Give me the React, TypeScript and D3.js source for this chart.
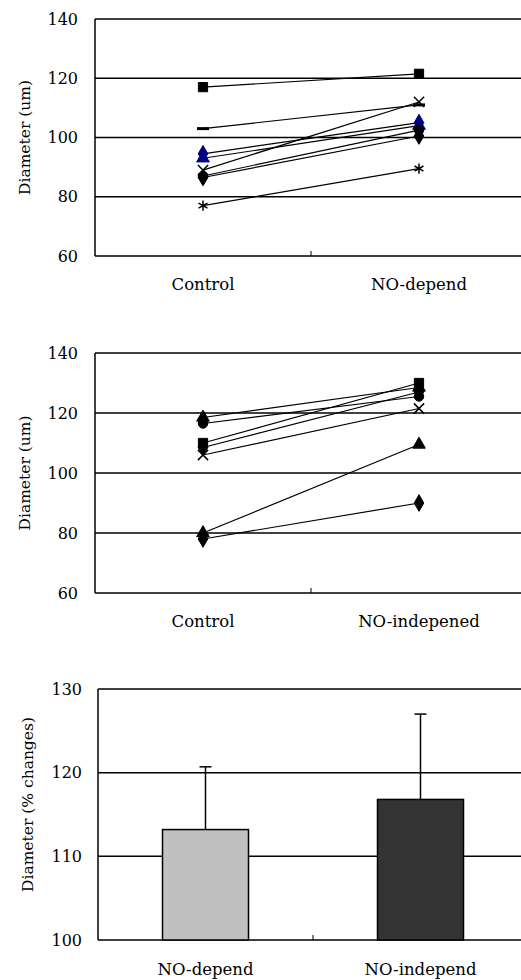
import React from "react";
import * as d3 from "d3";

// panel 1: control vs NO-dependent dilation (diameter, um)
const depCategories = ["Control", "NO-depend"];
const depSeries = [
  { name: "v1", marker: "square", color: "#000000", values: [117, 121.5] },
  { name: "v2", marker: "dash", color: "#000000", values: [103, 111] },
  { name: "v3", marker: "diamond", color: "#000080", values: [94.5, 105] },
  { name: "v4", marker: "triangle", color: "#000080", values: [93, 104] },
  { name: "v5", marker: "times", color: "#000000", values: [89, 112] },
  { name: "v6", marker: "circle", color: "#000000", values: [87, 102.5] },
  { name: "v7", marker: "diamond", color: "#000000", values: [86.5, 100.5] },
  { name: "v8", marker: "asterisk", color: "#000000", values: [77, 89.5] },
];

// panel 2: control vs NO-independent dilation
const indepCategories = ["Control", "NO-indepened"];
const indepSeries = [
  { name: "w1", marker: "triangle", color: "#000000", values: [118.5, 128.5] },
  { name: "w2", marker: "circle", color: "#000000", values: [116.5, 125.5] },
  { name: "w3", marker: "square", color: "#000000", values: [110, 130] },
  { name: "w4", marker: "diamond", color: "#000000", values: [108.5, 127] },
  { name: "w5", marker: "times", color: "#000000", values: [106, 121.5] },
  { name: "w6", marker: "triangle", color: "#000000", values: [80, 109.5] },
  { name: "w7", marker: "diamond", color: "#000000", values: [78, 90] },
];
const lineTicks = [60, 80, 100, 120, 140];

// panel 3: % change
const barCategories = ["NO-depend", "NO-independ"];
const barMeans = [113.2, 116.8];
const barErrors = [7.5, 10.2];
const barColors = ["#c0c0c0", "#333333"];
const barTicks = [100, 110, 120, 130];

const FONT = "'DejaVu Serif', serif";

function markerPath(kind: string) {
  const types: Record<string, any> = {
    square: d3.symbolSquare,
    diamond: d3.symbolDiamond,
    triangle: d3.symbolTriangle,
    circle: d3.symbolCircle,
    times: d3.symbolTimes,
    asterisk: d3.symbolAsterisk,
  };
  const sizes: Record<string, number> = {
    square: 85, diamond: 80, triangle: 70, circle: 70, times: 70, asterisk: 75,
  };
  return d3.symbol(types[kind] || d3.symbolSquare, sizes[kind] || 70)() || "";
}

function Marker({ kind, color, x, y }: any) {
  if (kind === "dash") {
    return <line x1={x - 6} x2={x + 6} y1={y} y2={y} stroke={color} strokeWidth={3} />;
  }
  const stroked = kind === "times" || kind === "asterisk";
  return (
    <path
      d={markerPath(kind)}
      transform={`translate(${x},${y})`}
      fill={stroked ? "none" : color}
      stroke={color}
      strokeWidth={stroked ? 1.5 : 1}
    />
  );
}

function LinePanel({ top, bottom, left, categories, series, title }: any) {
  const x = d3.scaleBand().domain(categories).range([left, left + 432]);
  const y = d3.scaleLinear().domain([60, 140]).range([bottom, top]);
  const cx = (c: string) => (x(c) as number) + x.bandwidth() / 2;
  const line = d3
    .line<number>()
    .x((_, i) => cx(categories[i]))
    .y((d) => y(d));

  return (
    <g>
      {lineTicks.map((t) => (
        <g key={t}>
          <line x1={left} x2={521} y1={y(t)} y2={y(t)} stroke="#000" strokeWidth={1.5} />
          <text
            x={left - 17}
            y={y(t)}
            textAnchor="end"
            dominantBaseline="central"
            fontSize={16}
            fontFamily={FONT}
          >
            {t}
          </text>
        </g>
      ))}
      <line x1={left} x2={left} y1={top} y2={bottom} stroke="#000" strokeWidth={1.5} />
      <line x1={left + x.bandwidth()} x2={left + x.bandwidth()} y1={bottom} y2={bottom - 5} stroke="#000" />
      {series.map((s: any) => (
        <g key={s.name}>
          <path d={line(s.values) || ""} fill="none" stroke="#000" strokeWidth={1.2} />
          {s.values.map((v: number, i: number) => (
            <Marker key={i} kind={s.marker} color={s.color} x={cx(categories[i])} y={y(v)} />
          ))}
        </g>
      ))}
      {categories.map((c: string) => (
        <text key={c} x={cx(c)} y={bottom + 34} textAnchor="middle" fontSize={16.5} fontFamily={FONT}>
          {c}
        </text>
      ))}
      <text
        transform={`translate(25,${(top + bottom) / 2}) rotate(-90)`}
        textAnchor="middle"
        dominantBaseline="central"
        fontSize={15.5}
        fontFamily={FONT}
      >
        {title}
      </text>
    </g>
  );
}

function BarPanel({ top, bottom, left }: any) {
  const y = d3.scaleLinear().domain([100, 130]).range([bottom, top]);
  const band = d3.scaleBand().domain(barCategories).range([left, left + 430]);

  return (
    <g>
      {barTicks.map((t) => (
        <g key={t}>
          <line x1={left} x2={521} y1={y(t)} y2={y(t)} stroke="#000" strokeWidth={1.5} />
          <text
            x={left - 16}
            y={y(t)}
            textAnchor="end"
            dominantBaseline="central"
            fontSize={16}
            fontFamily={FONT}
          >
            {t}
          </text>
        </g>
      ))}
      <line x1={left} x2={left} y1={top} y2={bottom} stroke="#000" strokeWidth={1.5} />
      <line x1={left + band.bandwidth()} x2={left + band.bandwidth()} y1={bottom} y2={bottom - 5} stroke="#000" />
      {barCategories.map((c, i) => {
        const cx = (band(c) as number) + band.bandwidth() / 2;
        const w = band.bandwidth() * 0.4;
        const topV = barMeans[i] + barErrors[i];
        return (
          <g key={c}>
            <line x1={cx} x2={cx} y1={y(barMeans[i])} y2={y(topV)} stroke="#000" strokeWidth={1.5} />
            <line x1={cx - 6} x2={cx + 6} y1={y(topV)} y2={y(topV)} stroke="#000" strokeWidth={1.5} />
            <rect
              x={cx - w / 2}
              y={y(barMeans[i])}
              width={w}
              height={bottom - y(barMeans[i])}
              fill={barColors[i]}
              stroke="#000"
              strokeWidth={1.5}
            />
            <text x={cx} y={bottom + 35} textAnchor="middle" fontSize={16.5} fontFamily={FONT}>
              {c}
            </text>
          </g>
        );
      })}
      <text
        transform={`translate(27.5,${(top + bottom) / 2 - 10}) rotate(-90)`}
        textAnchor="middle"
        dominantBaseline="central"
        fontSize={15.5}
        fontFamily={FONT}
      >
        Diameter (% changes)
      </text>
    </g>
  );
}

export default function App() {
  return (
    <svg
      width={521}
      height={980}
      style={{ position: "absolute", left: 0, top: 0, background: "#fff" }}
    >
      <rect width={521} height={980} fill="#fff" />
      <LinePanel top={19} bottom={256} left={95} categories={depCategories} series={depSeries} title="Diameter (um)" />
      <LinePanel top={353} bottom={593} left={95} categories={indepCategories} series={indepSeries} title="Diameter (um)" />
      <BarPanel top={689} bottom={940} left={98} />
    </svg>
  );
}
